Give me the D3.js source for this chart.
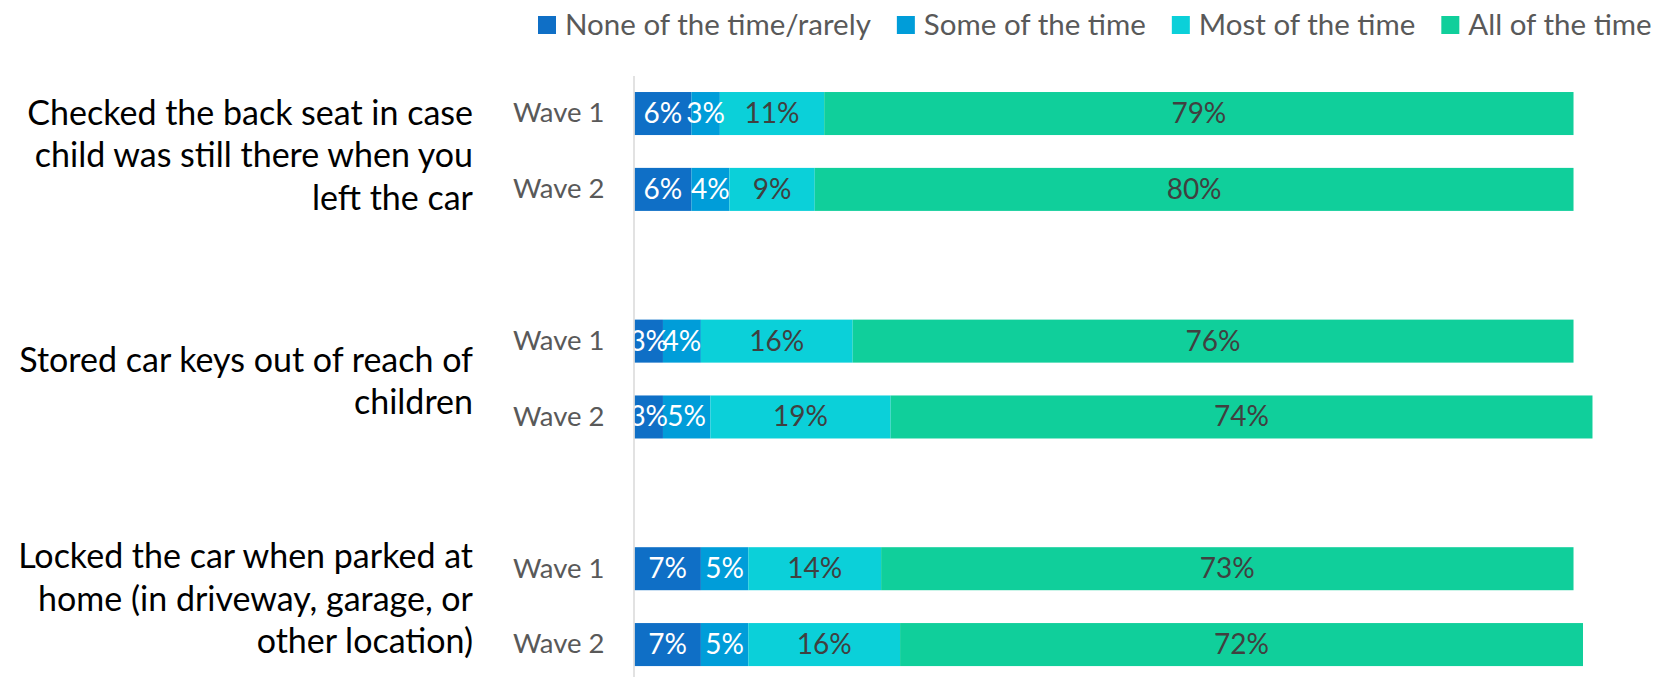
<!DOCTYPE html>
<html>
<head>
<meta charset="utf-8">
<script src="https://cdn.jsdelivr.net/npm/d3@7"></script>
<style>
  html, body { margin: 0; padding: 0; background: #ffffff; }
  svg { display: block; font-family: Lato, "Open Sans", sans-serif; }
</style>
</head>
<body>
<svg id="chart" width="1657" height="677"></svg>
<script>
// Survey items (wrapped as shown on the left)
const categoryLines = [
  ["Checked the back seat in case", "child was still there when you", "left the car"],
  ["Stored car keys out of reach of", "children"],
  ["Locked the car when parked at", "home (in driveway, garage, or", "other location)"]
];
const waves = ["Wave 1", "Wave 2"];

// Response categories
const seriesNames = ["None of the time/rarely", "Some of the time", "Most of the time", "All of the time"];
const seriesColors = ["#0F6FC6", "#009DD9", "#0BD0D9", "#10CF9B"];
const labelColors = ["#FFFFFF", "#FFFFFF", "#404040", "#404040"];

// Percentages per row: item 1 W1, W2, item 2 W1, W2, item 3 W1, W2
const noneRarely = [6, 6, 3, 3, 7, 7];
const someTime   = [3, 4, 4, 5, 5, 5];
const mostTime   = [11, 9, 16, 19, 14, 16];
const allTime    = [79, 80, 76, 74, 73, 72];

const W = 1657, H = 677;
const svg = d3.select("#chart");
svg.append("rect").attr("width", W).attr("height", H).attr("fill", "#ffffff");

// Build rows and the slot list (a blank slot separates items)
const seriesValues = [noneRarely, someTime, mostTime, allTime];
const rows = [];
const slots = [];
categoryLines.forEach((lines, ci) => {
  waves.forEach((w, wi) => {
    const idx = ci * waves.length + wi;
    const row = { key: `c${ci}-w${wi}`, cat: ci, wave: w };
    seriesNames.forEach((s, si) => { row[s] = seriesValues[si][idx]; });
    rows.push(row);
    slots.push(row.key);
  });
  if (ci < categoryLines.length - 1) slots.push(`gap${ci}`);
});

const plotLeft = 634.5;
const x = d3.scaleLinear().domain([0, 100]).range([plotLeft, plotLeft + 948.5]);
const y = d3.scaleBand()
  .domain(slots)
  .range([75.6, 682.5])
  .paddingInner(0.433)
  .paddingOuter(0.2165);

const stacked = d3.stack().keys(seriesNames)(rows);

// Bars
const layers = svg.append("g").selectAll("g")
  .data(stacked)
  .join("g")
  .attr("fill", (d, i) => seriesColors[i]);

layers.selectAll("rect")
  .data(d => d)
  .join("rect")
  .attr("x", d => x(d[0]))
  .attr("y", d => y(d.data.key))
  .attr("width", d => x(d[1]) - x(d[0]))
  .attr("height", y.bandwidth());

// Value labels centred in each segment
const fontSize = 28;
svg.append("g").selectAll("g")
  .data(stacked)
  .join("g")
  .attr("fill", (d, i) => labelColors[i])
  .selectAll("text")
  .data(d => d)
  .join("text")
  .attr("x", d => (x(d[0]) + x(d[1])) / 2)
  .attr("y", d => y(d.data.key) + y.bandwidth() / 2 + 9.5)
  .attr("text-anchor", "middle")
  .attr("font-size", fontSize)
  .text(d => `${d[1] - d[0]}%`);

// Vertical category axis with wave labels
const waveByKey = new Map(rows.map(r => [r.key, r.wave]));
const axis = svg.append("g")
  .attr("transform", `translate(${plotLeft - 1},0)`)
  .call(d3.axisLeft(y)
    .tickSize(0)
    .tickSizeOuter(0)
    .tickPadding(29)
    .tickFormat(k => waveByKey.get(k) || ""));
axis.select(".domain").attr("stroke", "#D9D9D9").attr("stroke-width", 1.5);
axis.selectAll(".tick text")
  .attr("font-size", 27.5)
  .attr("font-family", "Lato, 'Open Sans', sans-serif")
  .attr("fill", "#595959")
  .attr("dy", "0.32em");

// Item labels, right-aligned beside each pair of bars
const labelNudge = [7.5, 5.5, -4.5];
const lineGap = 42.5;
const catG = svg.append("g");
categoryLines.forEach((lines, ci) => {
  const k1 = `c${ci}-w0`, k2 = `c${ci}-w${waves.length - 1}`;
  const center = (y(k1) + y(k2) + y.bandwidth()) / 2 + labelNudge[ci];
  const t = catG.append("text")
    .attr("text-anchor", "end")
    .attr("font-size", 34)
    .attr("fill", "#000000");
  lines.forEach((ln, li) => {
    t.append("tspan")
      .attr("x", 473)
      .attr("y", center + (li - (lines.length - 1) / 2) * lineGap + 8.5)
      .text(ln);
  });
});

// Legend
const legend = svg.append("g").attr("transform", "translate(538,0)");
let lx = 0;
seriesNames.forEach((name, i) => {
  const g = legend.append("g").attr("transform", `translate(${lx},0)`);
  g.append("rect").attr("x", 0).attr("y", 16).attr("width", 18).attr("height", 18).attr("fill", seriesColors[i]);
  const t = g.append("text")
    .attr("x", 27)
    .attr("y", 35)
    .attr("font-size", 29.5)
    .attr("fill", "#595959")
    .text(name);
  lx += 27 + t.node().getComputedTextLength() + 26;
});
</script>
</body>
</html>
